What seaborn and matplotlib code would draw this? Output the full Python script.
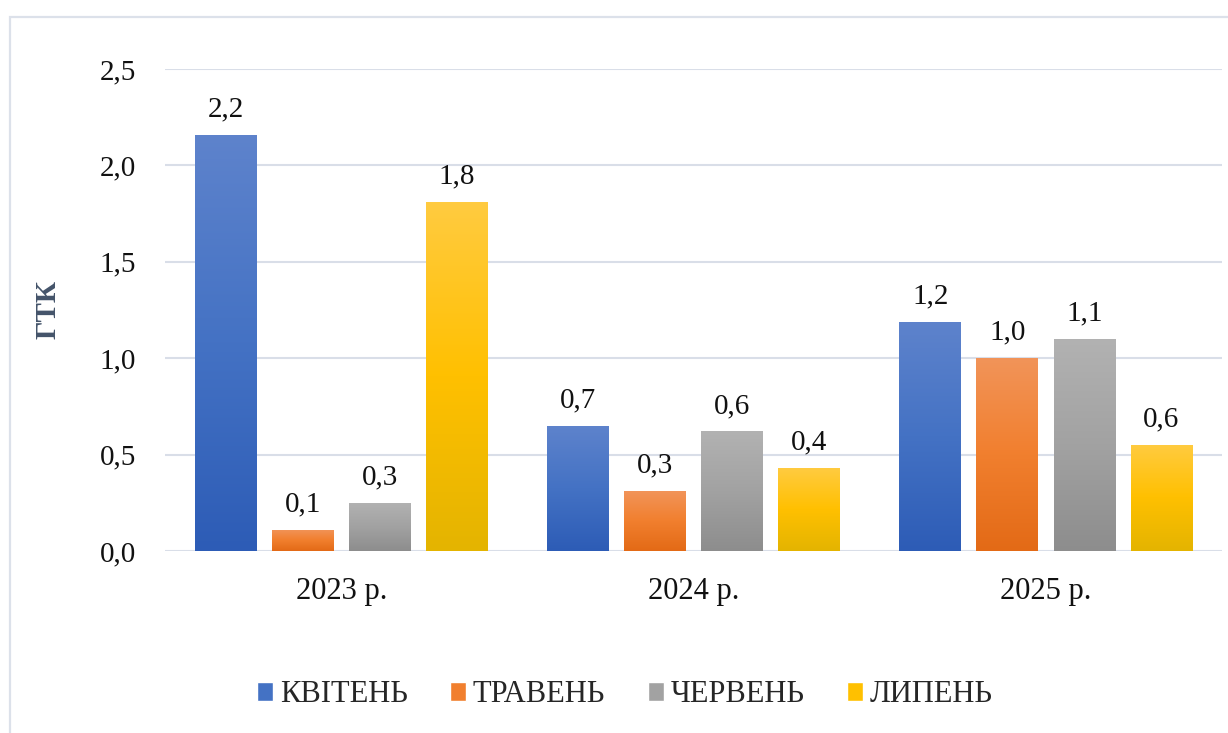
import pandas as pd
import numpy as np
import matplotlib.pyplot as plt
import seaborn as sns
from matplotlib.colors import LinearSegmentedColormap
from matplotlib.patches import Rectangle, Patch
from matplotlib.ticker import FuncFormatter

# дані
years = ['2023 р.', '2024 р.', '2025 р.']
months = ['КВІТЕНЬ', 'ТРАВЕНЬ', 'ЧЕРВЕНЬ', 'ЛИПЕНЬ']
kviten = [2.16, 0.65, 1.19]
traven = [0.11, 0.31, 1.00]
cherven = [0.25, 0.62, 1.10]
lypen = [1.81, 0.43, 0.55]

df = pd.DataFrame({
    'year': years * 4,
    'month': np.repeat(months, 3),
    'gtk': kviten + traven + cherven + lypen,
})

# кольори (верх, середина, низ) для градієнта
grad = {
    'КВІТЕНЬ': ['#5E83CC', '#4472C4', '#2D5CB6'],
    'ТРАВЕНЬ': ['#F29459', '#F17F2E', '#E36A16'],
    'ЧЕРВЕНЬ': ['#B2B2B2', '#A2A2A2', '#8D8D8D'],
    'ЛИПЕНЬ': ['#FFCB40', '#FFC000', '#E4B400'],
}
palette = {m: c[1] for m, c in grad.items()}

sns.set_style('white')
plt.rcParams['font.family'] = ['Liberation Serif', 'DejaVu Serif']

fig = plt.figure(figsize=(12.28, 7.33), dpi=100)
ax = fig.add_axes([0.1344, 0.2483, 0.8607, 0.6576])

sns.barplot(data=df, x='year', y='gtk', hue='month', palette=palette,
            width=0.875, gap=0.2, legend=False, ax=ax, zorder=2)

# градієнтна заливка стовпчиків
for i, cont in enumerate(ax.containers):
    cmap = LinearSegmentedColormap.from_list('g', grad[months[i]][::-1])
    g = np.linspace(0, 1, 256).reshape(-1, 1)
    for bar in cont:
        x0 = bar.get_x()
        w = bar.get_width()
        h = bar.get_height()
        bar.set_edgecolor('none')
        im = ax.imshow(g, cmap=cmap, origin='lower', aspect='auto',
                       extent=(x0, x0 + w, 0, h), zorder=3)
        im.set_clip_path(bar)
    ax.bar_label(cont, labels=[f"{v + 1e-9:.1f}".replace('.', ',') for v in cont.datavalues],
                 padding=9, fontsize=21, color='#111111')

ax.set_xlim(-0.5, 2.5)
ax.set_ylim(0, 2.5)

ax.set_yticks([0, 0.5, 1.0, 1.5, 2.0, 2.5])
ax.yaxis.set_major_formatter(FuncFormatter(lambda v, p: f"{v:.1f}".replace('.', ',')))
ax.tick_params(axis='both', length=0, labelsize=21, colors='#111111')
ax.tick_params(axis='y', pad=21)
ax.tick_params(axis='x', pad=19, labelsize=22)

ax.grid(axis='y', color='#D9DEE8', linewidth=1.5)
ax.set_axisbelow(True)
for s in ax.spines.values():
    s.set_visible(False)

ax.set_xlabel('')
ax.set_ylabel('ГТК', fontsize=21, fontweight='bold', color='#44546A', labelpad=27)

# легенда
handles = [Patch(facecolor=palette[m], label=m) for m in months]
fig.legend(handles=handles, loc='center', bbox_to_anchor=(0.509, 0.052), ncol=4,
           frameon=False, fontsize=22, handlelength=0.52, handleheight=0.56,
           handletextpad=0.22, columnspacing=1.4)

# рамка
fig.add_artist(Rectangle((10 / 1228, -0.1), 1.2, 1 - 17 / 733 + 0.1, transform=fig.transFigure,
                         fill=False, edgecolor='#DCE1EA', linewidth=1.6))

fig.savefig('out.png', dpi=100, facecolor='white')
